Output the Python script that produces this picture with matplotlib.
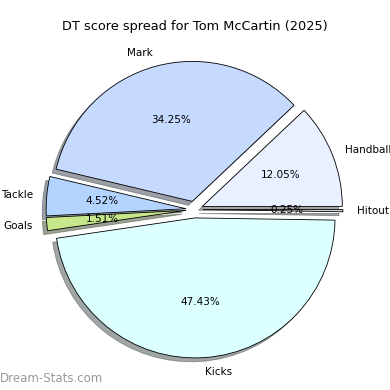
import matplotlib
matplotlib.use("Agg")
import matplotlib.pyplot as plt

# DT score spread (percent of total)
categories = ["Handball", "Mark", "Tackle", "Goals", "Kicks", "Hitout"]
shares = [12.05, 34.25, 4.52, 1.51, 47.43, 0.25]
colors = ["#e9f0ff", "#c6d9ff", "#b3d4ff", "#c6e88a", "#dcffff", "#d0d8e0"]
player = "Tom McCartin"
season = 2025

fig = plt.figure(figsize=(3.9, 3.9), dpi=100)
ax = fig.add_axes([0.05, 0.014, 0.8974, 0.8975])

explode = [0.06] * len(shares)
ax.pie(
    shares,
    labels=categories,
    colors=colors,
    explode=explode,
    autopct="%1.2f%%",
    shadow=True,
    startangle=0,
    wedgeprops={"edgecolor": "black", "linewidth": 0.6},
    textprops={"fontsize": 7.5},
)
ax.set_aspect("equal")
ax.set_title(f"DT score spread for {player} ({season})", fontsize=9.3, pad=3)

fig.text(0.0, 0.012, "Dream-Stats.com", color="#999999", fontsize=8.5, ha="left", va="bottom")

fig.savefig("out.png", dpi=100)
